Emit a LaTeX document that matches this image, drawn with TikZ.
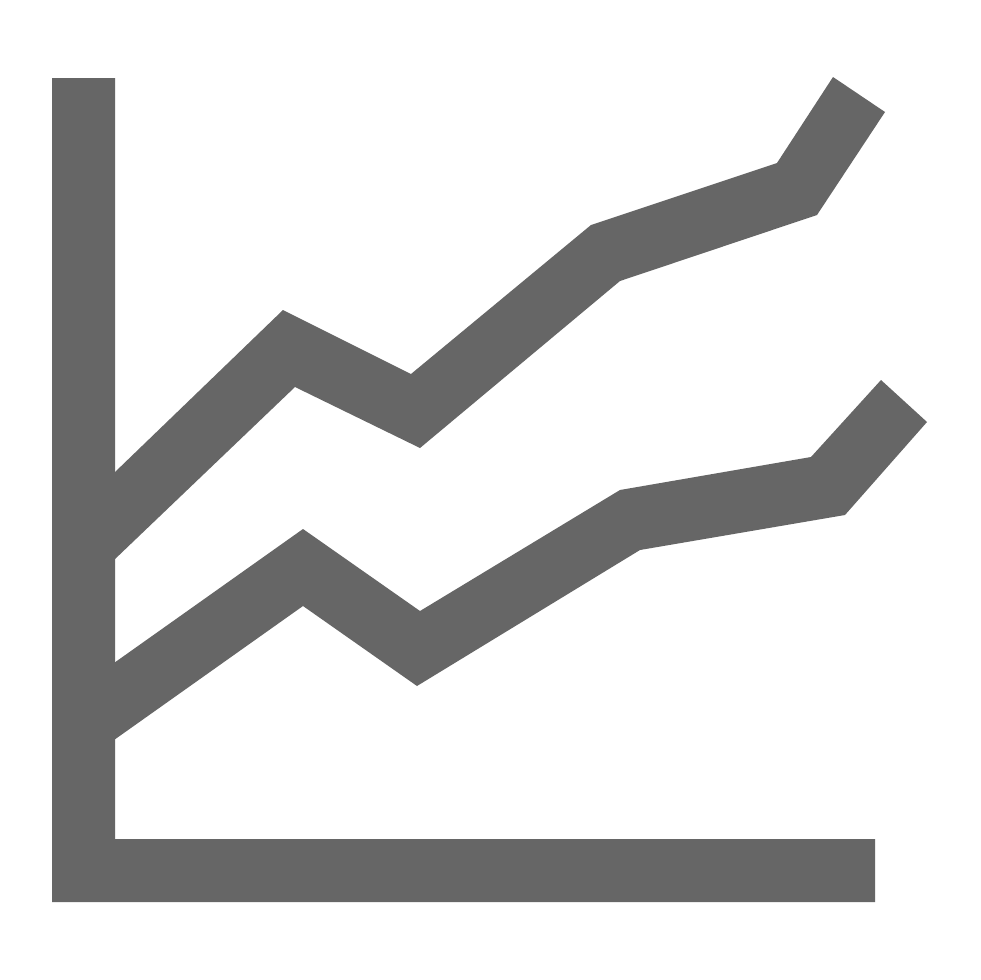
\documentclass[tikz,border=0pt]{standalone}
\definecolor{icongrey}{HTML}{666666}
\tikzset{iconshape/.style={fill=icongrey,draw=none}}
\begin{document}
\begin{tikzpicture}[x=1pt,y=-1pt]
\useasboundingbox (0,0) rectangle (980,980);
\fill[white] (0,0) rectangle (980,980);
\fill[iconshape] (52,78) -- (115,78) -- (115,839) -- (875,839) -- (875,902) -- (52,902) -- cycle;
\fill[iconshape] (114,473) -- (283,310) -- (411,374) -- (591,225) -- (777,163) -- (833,77) -- (885,112) -- (817,215) -- (620,281) -- (420,448) -- (295,387) -- (114,560) -- cycle;
\fill[iconshape] (114,663) -- (303,529) -- (420,611) -- (620,490) -- (811,457) -- (881,380) -- (927,422) -- (845,515) -- (640,550) -- (417,686) -- (303,606) -- (114,740) -- cycle;
\end{tikzpicture}
\end{document}
